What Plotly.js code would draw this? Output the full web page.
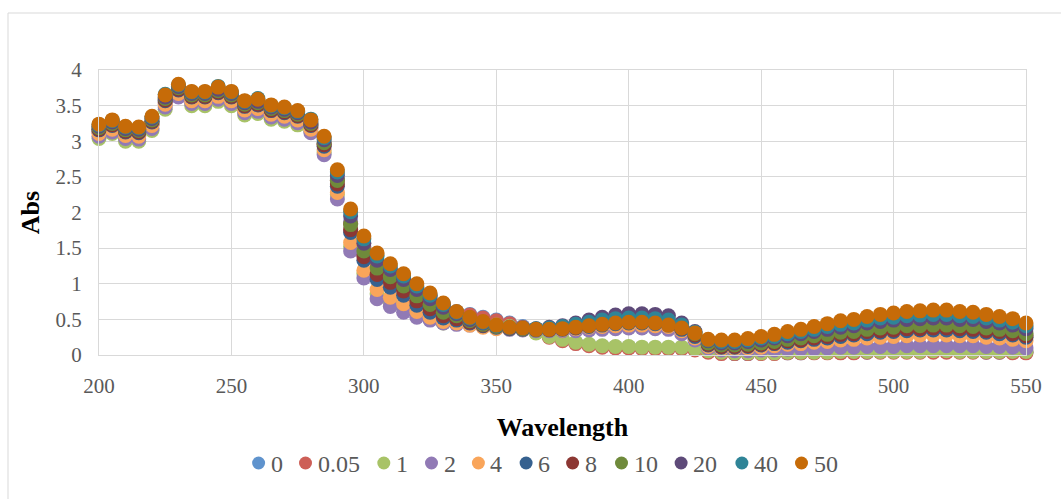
<!DOCTYPE html>
<html>
<head>
<meta charset="utf-8">
<script src="https://cdn.plot.ly/plotly-3.0.1.min.js"></script>
<style>
  html, body { margin: 0; padding: 0; background: #ffffff; }
  #chart { width: 1061px; height: 499px; }
</style>
</head>
<body>
<div id="chart"></div>
<script>
// Wavelength (nm), 200..550 every 5 nm
const wavelength = [200,205,210,215,220,225,230,235,240,245,250,255,260,265,270,275,280,
  285,290,295,300,305,310,315,320,325,330,
  335,340,345,350,
  355,360,365,370,375,380,385,390,395,400,405,410,415,420,425,
  430,435,440,445,450,455,460,465,470,475,480,485,490,495,500,505,510,515,520,525,530,535,540,545,550];

const seriesNames = ["0","0.05","1","2","4","6","8","10","20","40","50"];

const abs_0 = [3.14,3.20,3.11,3.10,3.25,3.55,3.70,3.60,3.60,3.66,3.60,3.47,3.49,3.41,3.38,3.33,3.20,
  2.97,2.47,1.87,1.52,1.30,1.19,1.07,0.95,0.84,0.72,
  0.61,0.57,0.53,0.49,
  0.45,0.40,0.33,0.26,0.21,0.17,0.14,0.12,0.11,0.11,0.10,0.10,0.10,0.10,0.08,
  0.05,0.03,0.02,0.02,0.03,0.03,0.03,0.03,0.04,0.04,0.04,0.04,0.04,0.05,0.05,0.05,0.05,0.05,0.05,0.05,0.05,0.04,0.04,0.04,0.04];

const abs_005 = [3.13,3.19,3.10,3.09,3.24,3.54,3.69,3.59,3.59,3.65,3.59,3.46,3.48,3.40,3.37,3.32,3.19,
  2.96,2.45,1.85,1.50,1.28,1.17,1.05,0.93,0.82,0.71,
  0.60,0.56,0.52,0.48,
  0.44,0.39,0.32,0.25,0.20,0.16,0.13,0.11,0.10,0.10,0.09,0.09,0.09,0.09,0.07,
  0.04,0.02,0.02,0.02,0.02,0.02,0.03,0.03,0.03,0.03,0.03,0.03,0.04,0.04,0.04,0.04,0.04,0.04,0.04,0.04,0.04,0.04,0.04,0.03,0.03];

const abs_1 = [3.04,3.11,3.00,3.00,3.15,3.45,3.64,3.50,3.50,3.56,3.50,3.37,3.39,3.31,3.28,3.23,3.14,
  2.84,2.25,1.52,1.14,0.86,0.74,0.66,0.57,0.50,0.45,
  0.52,0.49,0.45,0.42,
  0.40,0.37,0.31,0.26,0.22,0.18,0.15,0.13,0.12,0.12,0.11,0.11,0.11,0.11,0.09,
  0.06,0.04,0.03,0.03,0.03,0.03,0.04,0.04,0.04,0.04,0.05,0.05,0.05,0.05,0.05,0.05,0.05,0.06,0.06,0.05,0.05,0.05,0.05,0.05,0.05];

const abs_2 = [3.07,3.13,3.04,3.03,3.18,3.48,3.62,3.53,3.53,3.59,3.53,3.40,3.42,3.34,3.31,3.26,3.12,
  2.81,2.19,1.46,1.08,0.79,0.68,0.60,0.53,0.49,0.45,
  0.43,0.42,0.40,0.38,
  0.36,0.35,0.34,0.34,0.34,0.34,0.35,0.36,0.37,0.38,0.38,0.37,0.36,0.30,0.21,
  0.10,0.07,0.06,0.06,0.07,0.07,0.08,0.09,0.09,0.10,0.11,0.11,0.12,0.12,0.12,0.13,0.13,0.13,0.13,0.13,0.13,0.12,0.12,0.11,0.10];

const abs_4 = [3.11,3.17,3.08,3.07,3.22,3.52,3.67,3.57,3.57,3.63,3.57,3.44,3.46,3.38,3.35,3.30,3.17,
  2.88,2.28,1.58,1.19,0.92,0.81,0.72,0.61,0.53,0.47,
  0.45,0.42,0.39,0.37,
  0.37,0.36,0.35,0.35,0.35,0.37,0.39,0.40,0.41,0.42,0.42,0.41,0.40,0.34,0.24,
  0.12,0.09,0.09,0.10,0.11,0.13,0.15,0.16,0.18,0.19,0.21,0.22,0.24,0.25,0.26,0.27,0.28,0.28,0.28,0.27,0.27,0.25,0.24,0.22,0.20];

const abs_6 = [3.16,3.22,3.13,3.12,3.27,3.57,3.72,3.62,3.62,3.68,3.62,3.49,3.51,3.43,3.40,3.35,3.22,
  2.93,2.37,1.72,1.33,1.06,0.95,0.84,0.70,0.60,0.52,
  0.49,0.45,0.41,0.39,
  0.37,0.36,0.35,0.35,0.36,0.38,0.40,0.42,0.44,0.45,0.45,0.44,0.42,0.36,0.26,
  0.14,0.11,0.11,0.12,0.14,0.16,0.18,0.20,0.22,0.24,0.26,0.28,0.30,0.32,0.33,0.34,0.35,0.35,0.35,0.34,0.33,0.32,0.30,0.28,0.25];

const abs_8 = [3.17,3.23,3.14,3.13,3.28,3.58,3.73,3.63,3.63,3.69,3.63,3.50,3.52,3.44,3.41,3.36,3.23,
  2.95,2.40,1.76,1.38,1.13,1.02,0.90,0.76,0.65,0.55,
  0.51,0.46,0.42,0.40,
  0.38,0.37,0.36,0.36,0.37,0.39,0.42,0.44,0.46,0.47,0.47,0.46,0.44,0.38,0.28,
  0.15,0.12,0.12,0.13,0.15,0.17,0.20,0.21,0.24,0.26,0.29,0.30,0.33,0.34,0.35,0.37,0.37,0.38,0.38,0.37,0.36,0.34,0.33,0.30,0.27];

const abs_10 = [3.19,3.25,3.16,3.15,3.30,3.60,3.75,3.65,3.65,3.71,3.65,3.52,3.54,3.46,3.43,3.38,3.25,
  2.98,2.45,1.83,1.46,1.22,1.10,0.97,0.83,0.71,0.60,
  0.55,0.48,0.43,0.40,
  0.38,0.37,0.36,0.37,0.38,0.41,0.44,0.47,0.49,0.50,0.50,0.49,0.47,0.40,0.30,
  0.17,0.14,0.14,0.15,0.17,0.19,0.22,0.24,0.27,0.29,0.32,0.33,0.36,0.38,0.39,0.41,0.41,0.42,0.42,0.41,0.40,0.38,0.36,0.34,0.30];

const abs_20 = [3.21,3.27,3.18,3.17,3.32,3.62,3.77,3.67,3.67,3.73,3.67,3.54,3.56,3.48,3.45,3.40,3.27,
  3.02,2.52,1.95,1.57,1.33,1.20,1.06,0.92,0.79,0.67,
  0.58,0.50,0.45,0.41,
  0.38,0.38,0.37,0.39,0.41,0.45,0.49,0.53,0.56,0.58,0.58,0.57,0.55,0.45,0.33,
  0.20,0.17,0.17,0.19,0.21,0.24,0.27,0.30,0.33,0.36,0.39,0.41,0.45,0.47,0.49,0.50,0.51,0.52,0.52,0.50,0.50,0.47,0.45,0.42,0.37];

const abs_40 = [3.23,3.29,3.20,3.19,3.34,3.66,3.79,3.69,3.69,3.77,3.69,3.56,3.60,3.50,3.47,3.42,3.31,
  3.05,2.57,2.01,1.63,1.39,1.25,1.11,0.97,0.84,0.71,
  0.60,0.52,0.46,0.41,
  0.39,0.38,0.37,0.38,0.40,0.43,0.46,0.49,0.51,0.52,0.52,0.51,0.49,0.42,0.32,
  0.21,0.19,0.19,0.21,0.24,0.26,0.30,0.33,0.36,0.40,0.43,0.45,0.49,0.52,0.53,0.55,0.56,0.57,0.57,0.55,0.54,0.52,0.49,0.46,0.41];

const abs_50 = [3.24,3.30,3.21,3.20,3.35,3.65,3.80,3.70,3.70,3.76,3.70,3.57,3.59,3.51,3.48,3.43,3.30,
  3.07,2.60,2.05,1.67,1.43,1.28,1.14,1.00,0.87,0.73,
  0.61,0.53,0.47,0.42,
  0.39,0.38,0.36,0.36,0.37,0.39,0.41,0.43,0.45,0.46,0.46,0.45,0.42,0.38,0.31,
  0.22,0.21,0.21,0.23,0.26,0.29,0.33,0.36,0.40,0.44,0.48,0.50,0.54,0.57,0.59,0.61,0.62,0.63,0.63,0.61,0.60,0.57,0.54,0.51,0.45];

const xTicks = [200,250,300,350,400,450,500,550];
const yTicks = [0,0.5,1,1.5,2,2.5,3,3.5,4];
const yTickText = ["0","0.5","1","1.5","2","2.5","3","3.5","4"];

const seriesValues = [abs_0,abs_005,abs_1,abs_2,abs_4,abs_6,abs_8,abs_10,abs_20,abs_40,abs_50];
const colors = ["#5F93CD","#CD5F57","#A8C367","#917AB5","#F9A55A","#36618F","#8C3733","#6F8A3B","#5E4A79","#2F8497","#C66B08"];

// Legend layout (pixel positions of each legend entry's marker centre)
const legendMarkerPx = [258.6,305.5,383.8,431.5,478.4,526.1,572.6,621.5,681.1,741.9,801.5];
const legendCenterPy = 463;

// Plot-area geometry used to convert pixels into paper coordinates
const W = 1061, H = 499;
const M = { l: 99, r: 35, t: 70, b: 144 };
const plotW = W - M.l - M.r, plotH = H - M.t - M.b;
const pxToPaperX = px => (px - M.l) / plotW;
const pyToPaperY = py => (H - M.b - py) / plotH;

const traces = seriesNames.map((name, i) => ({
  type: "scatter",
  mode: "markers",
  name: name,
  x: wavelength,
  y: seriesValues[i],
  cliponaxis: false,
  marker: { color: colors[i], size: 15, line: { width: 0 } },
  hoverinfo: "x+y+name"
}));

const serif = "Liberation Serif, Times New Roman, serif";
const tickFont = { family: serif, size: 21, color: "#595959" };
const legendFont = { family: serif, size: 24, color: "#595959" };
const titleFont = { family: serif, size: 26, color: "#000000", weight: "bold" };

const legendShapes = seriesNames.map((name, i) => ({
  type: "circle", xref: "paper", yref: "paper",
  xsizemode: "pixel", ysizemode: "pixel",
  xanchor: pxToPaperX(legendMarkerPx[i]), yanchor: pyToPaperY(legendCenterPy),
  x0: -6.5, x1: 6.5, y0: -6.5, y1: 6.5,
  fillcolor: colors[i], line: { width: 0 }
}));

const legendLabels = seriesNames.map((name, i) => ({
  text: name, xref: "paper", yref: "paper",
  x: pxToPaperX(legendMarkerPx[i] + 10), y: pyToPaperY(legendCenterPy + 1),
  xanchor: "left", yanchor: "middle", showarrow: false,
  font: legendFont
}));

const layout = {
  width: W,
  height: H,
  margin: { l: M.l, r: M.r, t: M.t, b: M.b, pad: 0 },
  paper_bgcolor: "#ffffff",
  plot_bgcolor: "#ffffff",
  showlegend: false,
  xaxis: {
    range: [200, 550],
    tickvals: xTicks,
    ticktext: xTicks.map(String),
    showgrid: true, gridcolor: "#D9D9D9", gridwidth: 1,
    showline: true, linecolor: "#D9D9D9", linewidth: 1, mirror: true,
    zeroline: false,
    ticks: "",
    ticklabelstandoff: 12,
    tickfont: tickFont,
    title: { text: "Wavelength", font: titleFont, standoff: 20 },
    automargin: false,
    fixedrange: true
  },
  yaxis: {
    range: [0, 4],
    tickvals: yTicks,
    ticktext: yTickText,
    showgrid: true, gridcolor: "#D9D9D9", gridwidth: 1,
    showline: true, linecolor: "#D9D9D9", linewidth: 1, mirror: true,
    zeroline: false,
    ticks: "",
    ticklabelstandoff: 12,
    tickfont: tickFont,
    title: { text: "Abs", font: titleFont, standoff: 8 },
    automargin: false,
    fixedrange: true
  },
  annotations: legendLabels,
  shapes: [{
    type: "rect", xref: "paper", yref: "paper",
    x0: pxToPaperX(8), x1: pxToPaperX(1075), y0: pyToPaperY(510), y1: pyToPaperY(13),
    line: { color: "#D9D9D9", width: 1 },
    fillcolor: "rgba(0,0,0,0)", layer: "below"
  }].concat(legendShapes)
};

Plotly.newPlot("chart", traces, layout, { displayModeBar: false, staticPlot: true });
</script>
</body>
</html>
